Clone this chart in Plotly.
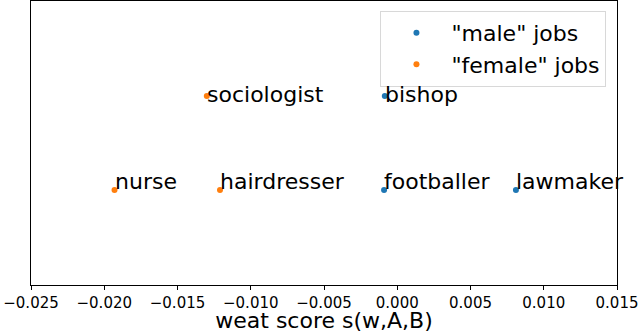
import plotly.graph_objects as go

male_jobs = ["bishop", "footballer", "lawmaker"]
male_x = [-0.00085, -0.0009, 0.0081]
male_y = [1, 0, 0]

female_jobs = ["sociologist", "nurse", "hairdresser"]
female_x = [-0.0130, -0.0193, -0.0121]
female_y = [1, 0, 0]

tick_vals = [-0.025, -0.020, -0.015, -0.010, -0.005, 0.0, 0.005, 0.010, 0.015]
tick_text = ["\u22120.025", "\u22120.020", "\u22120.015", "\u22120.010", "\u22120.005",
             "0.000", "0.005", "0.010", "0.015"]

BLUE = "#1f77b4"
ORANGE = "#ff7f0e"
FONT = "DejaVu Sans"

fig = go.Figure()
fig.add_trace(go.Scatter(x=male_x, y=male_y, mode="markers", name='"male" jobs',
                         marker=dict(color=BLUE, size=6)))
fig.add_trace(go.Scatter(x=female_x, y=female_y, mode="markers", name='"female" jobs',
                         marker=dict(color=ORANGE, size=6)))

for names, xs, ys in [(male_jobs, male_x, male_y), (female_jobs, female_x, female_y)]:
    for n, x, y in zip(names, xs, ys):
        fig.add_annotation(x=x, y=y, text=n, showarrow=False, xanchor="left", yanchor="bottom",
                           xshift=-2, yshift=(-13 if y == 1 else -6),
                           font=dict(family=FONT, size=22, color="black"))

fig.update_layout(
    width=640, height=333,
    margin=dict(l=31, r=23, t=1, b=48),
    plot_bgcolor="white", paper_bgcolor="white",
    font=dict(family=FONT, size=15, color="black"),
    showlegend=True,
    legend=dict(x=0.982, y=0.965, xanchor="right", yanchor="top",
                bgcolor="white", bordercolor="#d8d8d8", borderwidth=1,
                font=dict(family=FONT, size=22), itemwidth=60, tracegroupgap=0),
    xaxis=dict(range=[-0.025, 0.015], tickvals=tick_vals, ticktext=tick_text,
               showgrid=False, zeroline=False, showline=True, linecolor="black",
               linewidth=1, mirror=True, ticks="outside", ticklen=4, tickcolor="black",
               tickfont=dict(family=FONT, size=15),
               title=dict(text="weat score s(w,A,B)", font=dict(family=FONT, size=22), standoff=3)),
    yaxis=dict(range=[-1.01, 2.01], showticklabels=False, ticks="", showgrid=False,
               zeroline=False, showline=True, linecolor="black", linewidth=1, mirror=True),
)

fig.write_html("out.html", post_script="document.body.style.margin='0';",
               config={"displayModeBar": False})
